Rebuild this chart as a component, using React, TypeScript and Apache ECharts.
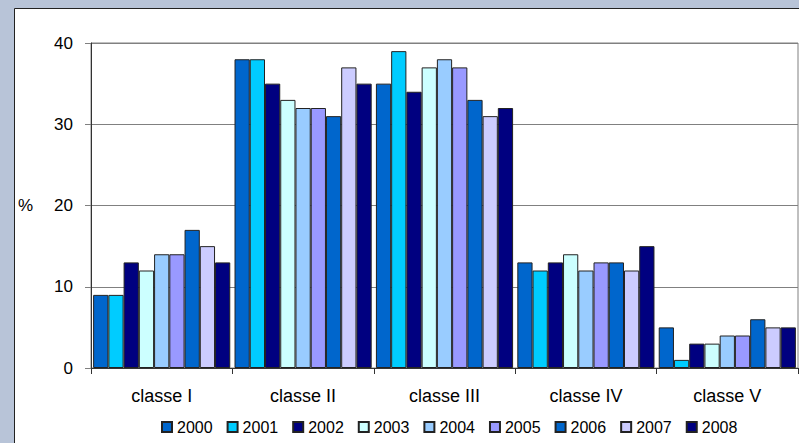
import React, { useEffect, useRef } from "react";
import * as echarts from "echarts";

const categories = ["classe I", "classe II", "classe III", "classe IV", "classe V"];
const years = ["2000", "2001", "2002", "2003", "2004", "2005", "2006", "2007", "2008"];
const colors = ["#0066CC", "#00CCFF", "#000080", "#CCFFFF", "#99CCFF", "#9999FF", "#0066CC", "#CCCCFF", "#000080"];
const values2000 = [9, 38, 35, 13, 5];
const values2001 = [9, 38, 39, 12, 1];
const values2002 = [13, 35, 34, 13, 3];
const values2003 = [12, 33, 37, 14, 3];
const values2004 = [14, 32, 38, 12, 4];
const values2005 = [14, 32, 37, 13, 4];
const values2006 = [17, 31, 33, 13, 6];
const values2007 = [15, 37, 31, 12, 5];
const values2008 = [13, 35, 32, 15, 5];
const seriesValues = [values2000, values2001, values2002, values2003, values2004, values2005, values2006, values2007, values2008];
const yTicks = [0, 10, 20, 30, 40];

export default function App() {
  const ref = useRef<HTMLDivElement>(null);
  useEffect(() => {
    if (!ref.current) return;
    const chart = echarts.init(ref.current, undefined, { renderer: "svg" });
    const font = "'Liberation Sans', Arial, sans-serif";
    chart.setOption({
      animation: false,
      backgroundColor: "#B8C4D8",
      textStyle: { fontFamily: font },
      graphic: [
        {
          type: "rect",
          z: -100,
          silent: true,
          shape: { x: 14.5, y: 8.5, width: 820, height: 500 },
          style: { fill: "#ffffff", stroke: "#222222", lineWidth: 1 },
        },
        {
          type: "text",
          left: 18,
          top: 197,
          style: { text: "%", fontSize: 17, fill: "#000000", fontFamily: font },
        },
      ],
      grid: {
        left: 91,
        top: 43,
        right: 1,
        bottom: 75,
        show: true,
        borderColor: "#808080",
        borderWidth: 1,
        backgroundColor: "transparent",
      },
      legend: {
        left: 156,
        top: 414,
        itemWidth: 10,
        itemHeight: 10,
        itemGap: 14,
        icon: "rect",
        textStyle: { fontSize: 16, color: "#000000", fontFamily: font },
        data: years,
      },
      xAxis: {
        type: "category",
        data: categories,
        axisLine: { lineStyle: { color: "#333333", width: 1 } },
        axisTick: { show: true, length: 6, interval: 0, lineStyle: { color: "#333333" } },
        axisLabel: { fontSize: 18, color: "#000000", margin: 19, fontFamily: font },
      },
      yAxis: {
        type: "value",
        min: yTicks[0],
        max: yTicks[yTicks.length - 1],
        interval: 10,
        axisLine: { show: true, lineStyle: { color: "#333333", width: 1 } },
        axisTick: { show: true, length: 6, lineStyle: { color: "#808080" } },
        axisLabel: { fontSize: 17, color: "#000000", margin: 18, fontFamily: font },
        splitLine: { show: true, lineStyle: { color: "#808080", width: 1 } },
      },
      series: years.map((y, i) => ({
        name: y,
        type: "bar",
        data: seriesValues[i],
        barGap: "0%",
        barCategoryGap: "3%",
        itemStyle: { color: colors[i], borderColor: "#222222", borderWidth: 1 },
      })),
    });
    return () => chart.dispose();
  }, []);
  return (
    <div
      ref={ref}
      style={{ position: "fixed", left: 0, top: 0, width: 799, height: 443 }}
    />
  );
}
